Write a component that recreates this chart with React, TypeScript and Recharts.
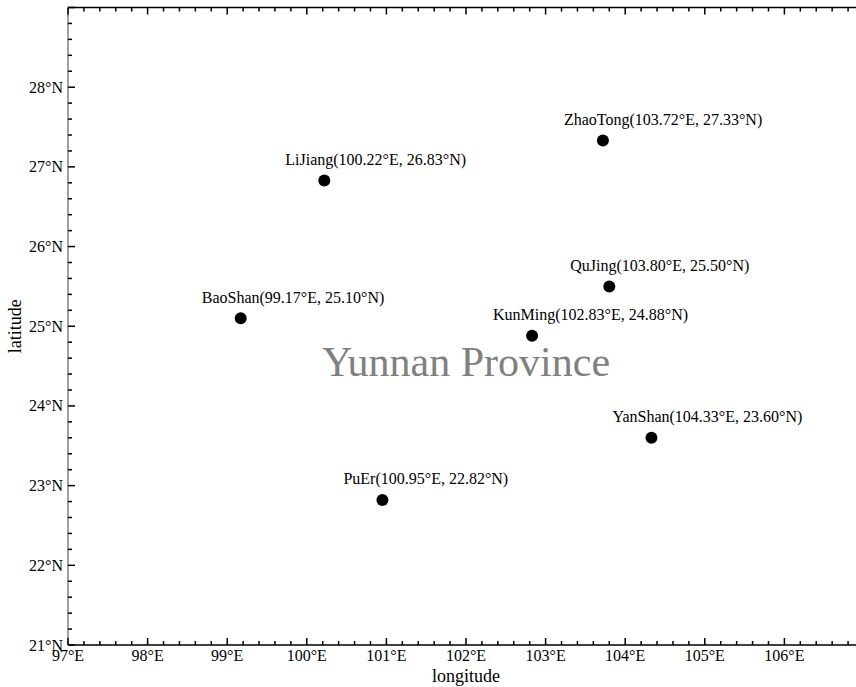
import React from 'react';
import { ScatterChart, Scatter, XAxis, YAxis, Label } from 'recharts';

const cityNames = ['BaoShan', 'LiJiang', 'PuEr', 'KunMing', 'ZhaoTong', 'QuJing', 'YanShan'];
const cityLon = [99.17, 100.22, 100.95, 102.83, 103.72, 103.8, 104.33];
const cityLat = [25.1, 26.83, 22.82, 24.88, 27.33, 25.5, 23.6];

const lonMajorTicks = [97, 98, 99, 100, 101, 102, 103, 104, 105, 106, 107];
const latMajorTicks = [21, 22, 23, 24, 25, 26, 27, 28, 29];
const lonLabelTicks = [97, 98, 99, 100, 101, 102, 103, 104, 105, 106];
const latLabelTicks = [21, 22, 23, 24, 25, 26, 27, 28];
const minorDivisions = 5;

const regionTitle = ['Yunnan Province'];
const regionTitleLon = [102];
const regionTitleLat = [24.5];

const withMinor = (major: number[]) => {
  const out: number[] = [];
  for (let i = 0; i < major.length; i++) {
    out.push(major[i]);
    if (i < major.length - 1) {
      const step = (major[i + 1] - major[i]) / minorDivisions;
      for (let k = 1; k < minorDivisions; k++) out.push(+(major[i] + k * step).toFixed(4));
    }
  }
  return out;
};

const lonTicks = withMinor(lonMajorTicks);
const latTicks = withMinor(latMajorTicks);

const cityData = cityNames.map((name, i) => ({ name, lon: cityLon[i], lat: cityLat[i] }));
const titleData = regionTitle.map((name, i) => ({ name, lon: regionTitleLon[i], lat: regionTitleLat[i] }));

const FONT = '"Liberation Serif", "Times New Roman", serif';
const isMajor = (v: number) => Math.abs(v - Math.round(v)) < 1e-6;
const MAJOR = 7;
const MINOR = 4;

const BottomTick = (props: any) => {
  const { x, y, payload } = props;
  const v = payload.value;
  const major = isMajor(v);
  return (
    <g>
      <line x1={x} y1={y} x2={x} y2={y - (major ? MAJOR : MINOR)} stroke="#000" strokeWidth={1.5} />
      {major && lonLabelTicks.includes(Math.round(v)) && (
        <text x={x} y={y + 16} textAnchor="middle" fontFamily={FONT} fontSize={16} fill="#000">
          {`${Math.round(v)}°E`}
        </text>
      )}
    </g>
  );
};

const TopTick = (props: any) => {
  const { x, y, payload } = props;
  const major = isMajor(payload.value);
  return <line x1={x} y1={y} x2={x} y2={y + (major ? MAJOR : MINOR)} stroke="#000" strokeWidth={1.5} />;
};

const LeftTick = (props: any) => {
  const { x, y, payload } = props;
  const v = payload.value;
  const major = isMajor(v);
  return (
    <g>
      <line x1={x} y1={y} x2={x + (major ? MAJOR : MINOR)} y2={y} stroke="#000" strokeWidth={1.5} />
      {major && latLabelTicks.includes(Math.round(v)) && (
        <text x={x - 5} y={y + 5.5} textAnchor="end" fontFamily={FONT} fontSize={16} fill="#000">
          {`${Math.round(v)}°N`}
        </text>
      )}
    </g>
  );
};

const CityShape = (props: any) => {
  const { cx, cy, payload } = props;
  return (
    <g>
      <circle cx={cx} cy={cy} r={6} fill="#000" />
      <text x={cx - 39} y={cy - 15.5} textAnchor="start" fontFamily={FONT} fontSize={16} fill="#000">
        {`${payload.name}(${payload.lon.toFixed(2)}°E, ${payload.lat.toFixed(2)}°N)`}
      </text>
    </g>
  );
};

const TitleShape = (props: any) => {
  const { cx, cy, payload } = props;
  return (
    <text x={cx} y={cy + 10} textAnchor="middle" fontFamily={FONT} fontSize={42} fill="#808080">
      {payload.name}
    </text>
  );
};

export default function App() {
  return (
    <div style={{ position: 'absolute', left: 0, top: 0, width: 856, height: 687, overflow: 'hidden', background: '#fff' }}>
      <ScatterChart width={900} height={687} margin={{ top: 0, right: 36, bottom: 0, left: 0 }}>
        <XAxis
          xAxisId="bottom"
          type="number"
          dataKey="lon"
          domain={[97, 107]}
          ticks={lonTicks}
          interval={0}
          tickSize={0}
          tickMargin={0}
          height={42}
          allowDataOverflow
          axisLine={{ stroke: '#000', strokeWidth: 1.5 }}
          tickLine={false}
          tick={<BottomTick />}
        >
          <Label
            content={(p: any) => {
              const vb = p.viewBox;
              return (
                <text x={vb.x + vb.width / 2} y={vb.y + 37} textAnchor="middle" fontFamily={FONT} fontSize={18} fill="#000">
                  longitude
                </text>
              );
            }}
          />
        </XAxis>
        <XAxis
          xAxisId="top"
          orientation="top"
          type="number"
          dataKey="lon"
          domain={[97, 107]}
          ticks={lonTicks}
          interval={0}
          tickSize={0}
          tickMargin={0}
          height={7.5}
          allowDataOverflow
          axisLine={{ stroke: '#000', strokeWidth: 1.5 }}
          tickLine={false}
          tick={<TopTick />}
        />
        <YAxis
          yAxisId="left"
          type="number"
          dataKey="lat"
          domain={[21, 29]}
          ticks={latTicks}
          interval={0}
          tickSize={0}
          tickMargin={0}
          width={68}
          allowDataOverflow
          axisLine={{ stroke: '#808080', strokeWidth: 1.5 }}
          tickLine={false}
          tick={<LeftTick />}
        >
          <Label
            content={(p: any) => {
              const vb = p.viewBox;
              const cx = 15;
              const cy = vb.y + vb.height / 2;
              return (
                <text x={cx} y={cy} textAnchor="middle" dominantBaseline="central" transform={`rotate(-90, ${cx}, ${cy})`} fontFamily={FONT} fontSize={18} fill="#000">
                  latitude
                </text>
              );
            }}
          />
        </YAxis>
        <Scatter xAxisId="bottom" yAxisId="left" data={titleData} shape={<TitleShape />} isAnimationActive={false} />
        <Scatter xAxisId="bottom" yAxisId="left" data={cityData} shape={<CityShape />} isAnimationActive={false} />
      </ScatterChart>
    </div>
  );
}
